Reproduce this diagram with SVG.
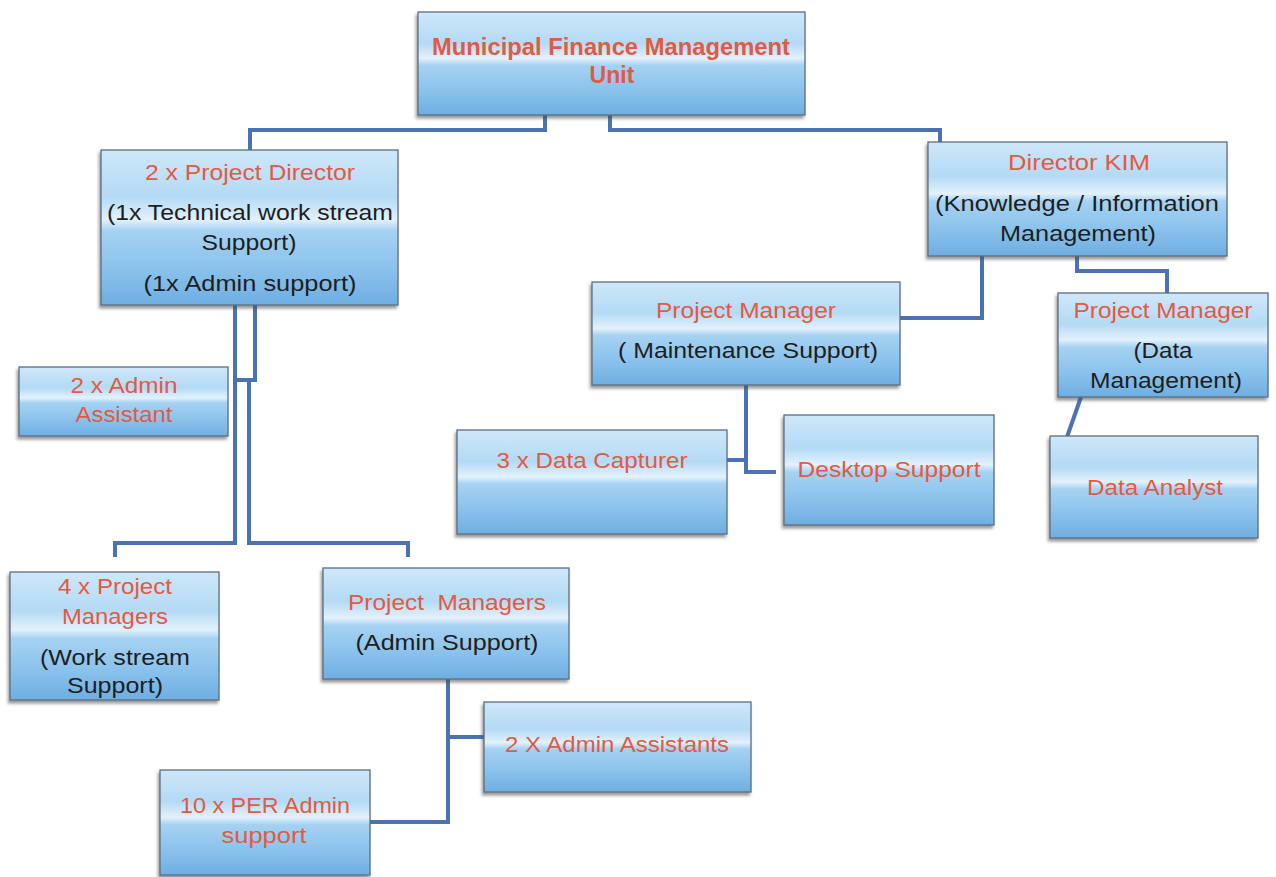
<svg xmlns="http://www.w3.org/2000/svg" width="1276" height="877" viewBox="0 0 1276 877">
<defs>
<linearGradient id="bg" x1="0" y1="0" x2="0" y2="1">
<stop offset="0" stop-color="#cfe7f9"/>
<stop offset="0.3" stop-color="#b3daf5"/>
<stop offset="0.45" stop-color="#e3f1fc"/>
<stop offset="0.52" stop-color="#a6d2f2"/>
<stop offset="0.75" stop-color="#8cc3ec"/>
<stop offset="1" stop-color="#6eaee2"/>
</linearGradient>
<filter id="sh" x="-10%" y="-10%" width="120%" height="130%">
<feDropShadow dx="-1.5" dy="3" stdDeviation="1.5" flood-color="#4a4a4a" flood-opacity="0.55"/>
</filter>
</defs>
<style>
.box{fill:url(#bg);stroke:#5c6f80;stroke-width:1.3;filter:url(#sh)}
.r{fill:#e25a42;font-family:"Liberation Sans",Arial,sans-serif;font-size:22px;text-anchor:middle}
.k{fill:#1e1e1e;font-family:"Liberation Sans",Arial,sans-serif;font-size:22px;text-anchor:middle}
.b{font-weight:bold;font-size:23px}
.c{fill:none;stroke:#4b72b2;stroke-width:4;stroke-linejoin:miter}
</style>
<rect width="1276" height="877" fill="#ffffff"/>

<g id="connectors">
<polyline class="c" points="545,115 545,130 250,130 250,150"/>
<polyline class="c" points="610,115 610,130 940,130 940,142"/>
<polyline class="c" points="235,305 235,543 115,543 115,557"/>
<polyline class="c" points="255,305 255,380 235,380"/>
<polyline class="c" points="249,380 249,543 408,543 408,557"/>
<polyline class="c" points="982,256 982,318 900,318"/>
<polyline class="c" points="1077,256 1077,271 1167,271 1167,293"/>
<line class="c" x1="1081" y1="397" x2="1067" y2="437"/>
<polyline class="c" points="746,385 746,472 776,472"/>
<polyline class="c" points="727,460 746,460"/>
<polyline class="c" points="448,679 448,822 370,822"/>
<polyline class="c" points="448,737 484,737"/>
</g>

<g id="n-mfmu">
<rect class="box" x="418" y="12" width="387" height="103"/>
<text class="r b" x="611" y="55" textLength="358" lengthAdjust="spacingAndGlyphs">Municipal Finance Management</text>
<text class="r b" x="612" y="83" textLength="45" lengthAdjust="spacingAndGlyphs">Unit</text>
</g>

<g id="n-pd">
<rect class="box" x="101" y="150" width="297" height="155"/>
<text class="r" x="250" y="180" textLength="210" lengthAdjust="spacingAndGlyphs">2 x Project Director</text>
<text class="k" x="250" y="220" textLength="286" lengthAdjust="spacingAndGlyphs">(1x Technical work stream</text>
<text class="k" x="249" y="250" textLength="95" lengthAdjust="spacingAndGlyphs">Support)</text>
<text class="k" x="250" y="291" textLength="213" lengthAdjust="spacingAndGlyphs">(1x Admin support)</text>
</g>

<g id="n-kim">
<rect class="box" x="928" y="142" width="299" height="114"/>
<text class="r" x="1079" y="170" textLength="142" lengthAdjust="spacingAndGlyphs">Director KIM</text>
<text class="k" x="1077" y="211" textLength="284" lengthAdjust="spacingAndGlyphs">(Knowledge / Information</text>
<text class="k" x="1078" y="241" textLength="156" lengthAdjust="spacingAndGlyphs">Management)</text>
</g>

<g id="n-aa">
<rect class="box" x="19" y="367" width="209" height="69"/>
<text class="r" x="124" y="393" textLength="107" lengthAdjust="spacingAndGlyphs">2 x Admin</text>
<text class="r" x="124" y="422" textLength="97" lengthAdjust="spacingAndGlyphs">Assistant</text>
</g>

<g id="n-pmm">
<rect class="box" x="592" y="282" width="308" height="103"/>
<text class="r" x="746" y="318" textLength="180" lengthAdjust="spacingAndGlyphs">Project Manager</text>
<text class="k" x="748" y="358" textLength="260" lengthAdjust="spacingAndGlyphs">( Maintenance Support)</text>
</g>

<g id="n-pmd">
<rect class="box" x="1058" y="293" width="210" height="104"/>
<text class="r" x="1163" y="318" textLength="179" lengthAdjust="spacingAndGlyphs">Project Manager</text>
<text class="k" x="1163" y="358" textLength="59" lengthAdjust="spacingAndGlyphs">(Data</text>
<text class="k" x="1166" y="388" textLength="152" lengthAdjust="spacingAndGlyphs">Management)</text>
</g>

<g id="n-dc">
<rect class="box" x="457" y="430" width="270" height="104"/>
<text class="r" x="592" y="468" textLength="191" lengthAdjust="spacingAndGlyphs">3 x Data Capturer</text>
</g>

<g id="n-ds">
<rect class="box" x="784" y="415" width="210" height="110"/>
<text class="r" x="889" y="477" textLength="183" lengthAdjust="spacingAndGlyphs">Desktop Support</text>
</g>

<g id="n-da">
<rect class="box" x="1050" y="436" width="208" height="102"/>
<text class="r" x="1155" y="495" textLength="136" lengthAdjust="spacingAndGlyphs">Data Analyst</text>
</g>

<g id="n-pm4">
<rect class="box" x="10" y="572" width="209" height="128"/>
<text class="r" x="115" y="594" textLength="114" lengthAdjust="spacingAndGlyphs">4 x Project</text>
<text class="r" x="115" y="624" textLength="106" lengthAdjust="spacingAndGlyphs">Managers</text>
<text class="k" x="115" y="665" textLength="150" lengthAdjust="spacingAndGlyphs">(Work stream</text>
<text class="k" x="115" y="693" textLength="96" lengthAdjust="spacingAndGlyphs">Support)</text>
</g>

<g id="n-pma">
<rect class="box" x="323" y="568" width="246" height="111"/>
<text class="r" x="447" y="610" textLength="198" lengthAdjust="spacingAndGlyphs" xml:space="preserve">Project  Managers</text>
<text class="k" x="447" y="650" textLength="183" lengthAdjust="spacingAndGlyphs">(Admin Support)</text>
</g>

<g id="n-aa2">
<rect class="box" x="484" y="702" width="267" height="90"/>
<text class="r" x="617" y="752" textLength="224" lengthAdjust="spacingAndGlyphs">2 X Admin Assistants</text>
</g>

<g id="n-per">
<rect class="box" x="160" y="770" width="210" height="105"/>
<text class="r" x="265" y="813" textLength="170" lengthAdjust="spacingAndGlyphs">10 x PER Admin</text>
<text class="r" x="264" y="843" textLength="85" lengthAdjust="spacingAndGlyphs">support</text>
</g>
</svg>
